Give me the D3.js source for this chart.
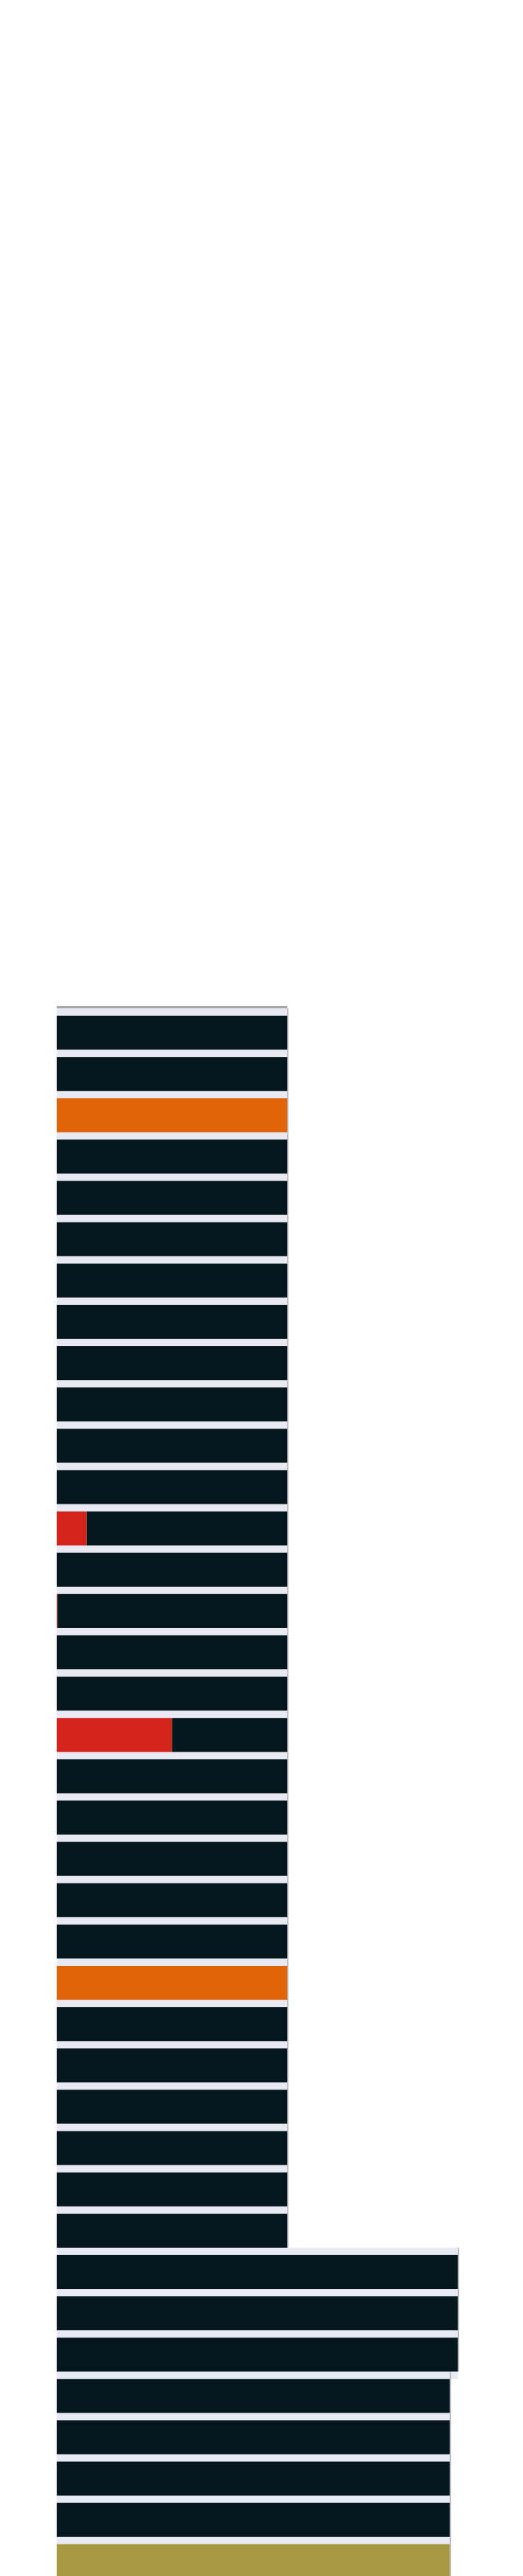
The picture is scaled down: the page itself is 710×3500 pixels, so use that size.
<!DOCTYPE html>
<html>
<head>
<meta charset="utf-8">
<script src="https://cdn.jsdelivr.net/npm/d3@7"></script>
<style>
  html, body { margin: 0; padding: 0; background: #ffffff; }
  svg { display: block; }
</style>
</head>
<body>
<svg id="chart" width="710" height="3500"></svg>
<script>
// ---- data ----
const categories = [
  "r01","r02","r03","r04","r05","r06","r07","r08","r09","r10",
  "r11","r12","r13","r14","r15","r16","r17","r18","r19","r20",
  "r21","r22","r23","r24","r25","r26","r27","r28","r29","r30",
  "r31","r32","r33","r34","r35","r36","r37","r38"
];
const redValues = [
  0,0,0,0,0,0,0,0,0,0,
  0,0,13,0,0.4,0,0,50,0,0,
  0,0,0,0,0,0,0,0,0,0,
  0,0,0,0,0,0,0,0
];
const orangeValues = [
  0,0,100,0,0,0,0,0,0,0,
  0,0,0,0,0,0,0,0,0,0,
  0,0,0,100,0,0,0,0,0,0,
  0,0,0,0,0,0,0,0
];
const goldValues = [
  0,0,0,0,0,0,0,0,0,0,
  0,0,0,0,0,0,0,0,0,0,
  0,0,0,0,0,0,0,0,0,0,
  0,0,0,0,0,0,0,170.5
];
const darkValues = [
  100,100,0,100,100,100,100,100,100,100,
  100,100,87,100,99.6,100,100,50,100,100,
  100,100,100,0,100,100,100,100,100,100,
  174,174,174,170.5,170.5,170.5,170.5,0
];
const seriesKeys = ["red","orange","gold","dark"];
const seriesColors = ["#d3231b","#e2640a","#a99843","#06161d"];

// ---- build table ----
const table = categories.map((c, i) => ({
  cat: c,
  red: redValues[i],
  orange: orangeValues[i],
  gold: goldValues[i],
  dark: darkValues[i]
}));
const totals = table.map(d => seriesKeys.reduce((s, k) => s + d[k], 0));

// ---- scales ----
const svg = d3.select("#chart");
const x = d3.scaleLinear().domain([0, 200]).range([77, 703]);
const y = d3.scaleBand()
  .domain(categories)
  .range([1380, 1380 + 37 * 56.13 + 46.13])
  .paddingInner(0.178)
  .paddingOuter(0);
const gap = y.step() - y.bandwidth();
const color = d3.scaleOrdinal().domain(seriesKeys).range(seriesColors);

// ---- lavender row backgrounds ----
const bg = svg.append("g");
bg.selectAll("rect")
  .data(table)
  .join("rect")
  .attr("x", x(0))
  .attr("y", d => y(d.cat) - gap)
  .attr("width", (d, i) => x(totals[i]) - x(0))
  .attr("height", y.bandwidth() + 2 * gap)
  .attr("fill", "#e8e9f3");

// thin grey edge at the top and right side
const edge = svg.append("g");
edge.append("rect")
  .attr("x", x(0))
  .attr("y", y(categories[0]) - gap - 3)
  .attr("width", x(totals[0]) - x(0))
  .attr("height", 3)
  .attr("fill", "#a3a8aa");
edge.selectAll("rect.side")
  .data(table)
  .join("rect")
  .attr("class", "side")
  .attr("x", (d, i) => x(totals[i]))
  .attr("y", d => y(d.cat) - gap)
  .attr("width", 1.5)
  .attr("height", y.step())
  .attr("fill", "#b4b8ba");

// ---- stacked bars ----
const stacked = d3.stack().keys(seriesKeys)(table);
svg.append("g")
  .selectAll("g")
  .data(stacked)
  .join("g")
  .attr("fill", s => color(s.key))
  .selectAll("rect")
  .data(s => s)
  .join("rect")
  .attr("x", d => x(d[0]))
  .attr("y", d => y(d.data.cat))
  .attr("width", d => Math.max(0, x(d[1]) - x(d[0])))
  .attr("height", y.bandwidth());
</script>
</body>
</html>
